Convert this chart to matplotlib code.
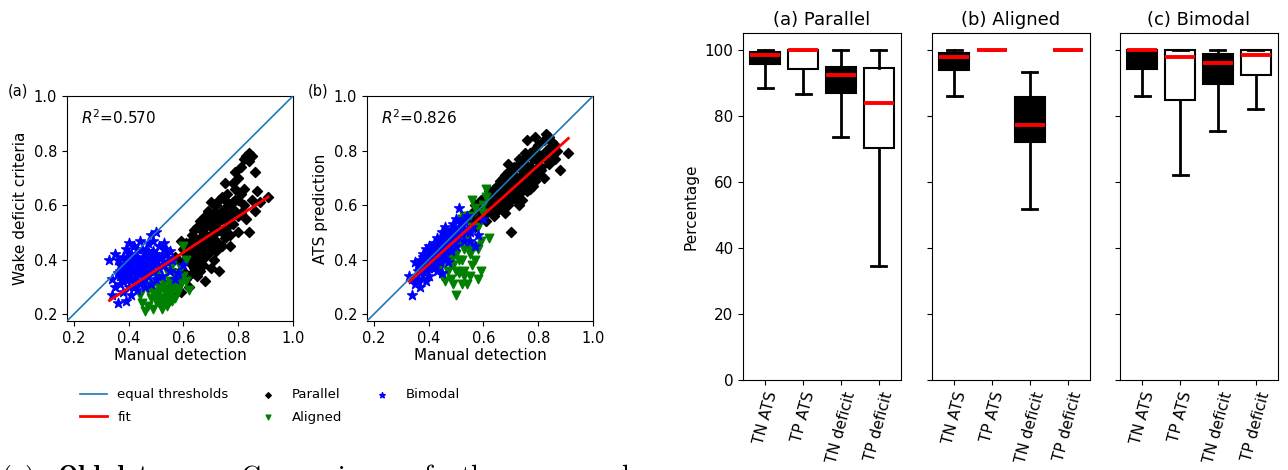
import numpy as np
import matplotlib.pyplot as plt

# manual detection (x) vs wake deficit criteria / ATS prediction, per wake type
par_x = [0.55, 0.56, 0.57, 0.58, 0.58, 0.59, 0.60, 0.60, 0.61, 0.61, 0.62, 0.62, 0.63, 0.63, 0.64,
         0.64, 0.65, 0.65, 0.66, 0.66, 0.67, 0.67, 0.67, 0.68, 0.68, 0.68, 0.69, 0.69, 0.70, 0.70,
         0.70, 0.71, 0.71, 0.72, 0.72, 0.73, 0.73, 0.73, 0.74, 0.74, 0.75, 0.75, 0.76, 0.76, 0.77,
         0.77, 0.78, 0.78, 0.79, 0.79, 0.80, 0.80, 0.80, 0.81, 0.81, 0.82, 0.82, 0.83, 0.83, 0.84,
         0.84, 0.84, 0.85, 0.85, 0.86, 0.86, 0.87, 0.88, 0.91, 0.79, 0.75, 0.71, 0.66, 0.62, 0.57,
         0.59, 0.64, 0.69, 0.72, 0.77, 0.82, 0.76, 0.70, 0.65, 0.63, 0.74, 0.78, 0.81, 0.68, 0.73,
         0.62, 0.63, 0.64, 0.65, 0.65, 0.66, 0.66, 0.67, 0.67, 0.68, 0.69, 0.69, 0.70, 0.70, 0.71,
         0.71, 0.72, 0.72, 0.73, 0.74, 0.74, 0.75, 0.75, 0.76, 0.77, 0.78, 0.79, 0.80, 0.60, 0.61]
par_wdc = [0.30, 0.27, 0.35, 0.31, 0.40, 0.28, 0.36, 0.44, 0.33, 0.46, 0.39, 0.30, 0.42, 0.49, 0.37,
           0.45, 0.34, 0.52, 0.41, 0.48, 0.44, 0.55, 0.38, 0.47, 0.52, 0.32, 0.42, 0.58, 0.49, 0.61,
           0.45, 0.53, 0.40, 0.57, 0.47, 0.62, 0.51, 0.36, 0.55, 0.63, 0.48, 0.59, 0.52, 0.64, 0.56,
           0.45, 0.61, 0.53, 0.58, 0.66, 0.50, 0.62, 0.70, 0.57, 0.74, 0.60, 0.77, 0.55, 0.78, 0.79,
           0.76, 0.50, 0.78, 0.62, 0.72, 0.58, 0.65, 0.61, 0.63, 0.72, 0.68, 0.60, 0.54, 0.46, 0.41,
           0.47, 0.51, 0.54, 0.43, 0.49, 0.66, 0.58, 0.37, 0.43, 0.35, 0.45, 0.68, 0.64, 0.41, 0.56,
           0.42, 0.45, 0.40, 0.47, 0.39, 0.45, 0.36, 0.50, 0.47, 0.56, 0.48, 0.45, 0.55, 0.52, 0.47,
           0.57, 0.50, 0.60, 0.54, 0.50, 0.58, 0.55, 0.62, 0.49, 0.60, 0.57, 0.62, 0.56, 0.39, 0.42]
par_ats = [0.55, 0.57, 0.52, 0.59, 0.55, 0.62, 0.56, 0.60, 0.54, 0.63, 0.58, 0.61, 0.57, 0.64, 0.60,
           0.66, 0.62, 0.58, 0.64, 0.69, 0.61, 0.67, 0.59, 0.65, 0.71, 0.63, 0.60, 0.68, 0.66, 0.73,
           0.50, 0.63, 0.69, 0.67, 0.74, 0.64, 0.70, 0.66, 0.76, 0.62, 0.68, 0.72, 0.65, 0.78, 0.70,
           0.74, 0.67, 0.80, 0.73, 0.69, 0.76, 0.82, 0.71, 0.78, 0.74, 0.84, 0.70, 0.77, 0.86, 0.81,
           0.85, 0.75, 0.83, 0.79, 0.77, 0.82, 0.80, 0.73, 0.79, 0.85, 0.79, 0.71, 0.62, 0.65, 0.60,
           0.58, 0.56, 0.75, 0.62, 0.66, 0.79, 0.84, 0.64, 0.67, 0.62, 0.71, 0.77, 0.73, 0.57, 0.60,
           0.60, 0.59, 0.63, 0.64, 0.60, 0.66, 0.61, 0.64, 0.70, 0.62, 0.67, 0.72, 0.62, 0.69, 0.66,
           0.74, 0.70, 0.65, 0.77, 0.67, 0.73, 0.70, 0.75, 0.72, 0.79, 0.71, 0.80, 0.74, 0.58, 0.61]

ali_x = [0.44, 0.45, 0.46, 0.47, 0.47, 0.48, 0.49, 0.49, 0.50, 0.50, 0.51, 0.51, 0.52, 0.52, 0.53,
         0.53, 0.54, 0.54, 0.55, 0.55, 0.56, 0.56, 0.57, 0.57, 0.58, 0.58, 0.59, 0.59, 0.60, 0.61,
         0.62, 0.53, 0.55, 0.52, 0.56, 0.60, 0.48, 0.57, 0.54, 0.61, 0.50, 0.51, 0.53, 0.55, 0.58,
         0.49]
ali_wdc = [0.27, 0.24, 0.21, 0.29, 0.23, 0.26, 0.31, 0.22, 0.27, 0.34, 0.24, 0.30, 0.22, 0.33, 0.26,
           0.29, 0.23, 0.36, 0.27, 0.32, 0.25, 0.38, 0.30, 0.35, 0.28, 0.33, 0.37, 0.31, 0.45, 0.32,
           0.29, 0.31, 0.29, 0.26, 0.30, 0.34, 0.30, 0.26, 0.28, 0.40, 0.25, 0.28, 0.24, 0.25, 0.30,
           0.28]
ali_ats = [0.37, 0.34, 0.32, 0.36, 0.40, 0.33, 0.31, 0.38, 0.27, 0.42, 0.35, 0.46, 0.31, 0.40, 0.44,
           0.36, 0.31, 0.48, 0.34, 0.56, 0.38, 0.52, 0.40, 0.59, 0.33, 0.44, 0.47, 0.36, 0.60, 0.66,
           0.48, 0.56, 0.42, 0.55, 0.62, 0.57, 0.38, 0.45, 0.50, 0.63, 0.36, 0.40, 0.34, 0.44, 0.52,
           0.41]

bim_x = [0.33, 0.34, 0.35, 0.35, 0.36, 0.36, 0.37, 0.37, 0.38, 0.38, 0.38, 0.39, 0.39, 0.39, 0.40,
         0.40, 0.40, 0.41, 0.41, 0.41, 0.42, 0.42, 0.42, 0.43, 0.43, 0.43, 0.44, 0.44, 0.44, 0.45,
         0.45, 0.45, 0.46, 0.46, 0.46, 0.47, 0.47, 0.47, 0.48, 0.48, 0.48, 0.49, 0.49, 0.50, 0.50,
         0.50, 0.51, 0.51, 0.52, 0.52, 0.53, 0.53, 0.54, 0.55, 0.56, 0.57, 0.58, 0.60, 0.36, 0.37,
         0.40, 0.43, 0.44, 0.41, 0.46, 0.39, 0.42, 0.45, 0.48, 0.53, 0.34, 0.38, 0.47, 0.50, 0.55,
         0.49, 0.37, 0.38, 0.39, 0.40, 0.40, 0.41, 0.42, 0.43, 0.43, 0.44, 0.45, 0.46, 0.46, 0.47,
         0.48, 0.49, 0.51, 0.52, 0.54, 0.42]
bim_wdc = [0.40, 0.27, 0.42, 0.30, 0.35, 0.24, 0.38, 0.31, 0.41, 0.28, 0.35, 0.44, 0.33, 0.25, 0.38,
           0.30, 0.46, 0.36, 0.42, 0.27, 0.39, 0.33, 0.45, 0.37, 0.29, 0.41, 0.35, 0.47, 0.31, 0.40,
           0.36, 0.44, 0.33, 0.42, 0.38, 0.46, 0.34, 0.40, 0.37, 0.49, 0.31, 0.43, 0.36, 0.50, 0.39,
           0.33, 0.45, 0.37, 0.41, 0.34, 0.44, 0.38, 0.42, 0.36, 0.40, 0.33, 0.35, 0.38, 0.40, 0.34,
           0.33, 0.32, 0.39, 0.39, 0.30, 0.36, 0.36, 0.32, 0.40, 0.46, 0.33, 0.38, 0.43, 0.42, 0.43,
           0.47, 0.36, 0.32, 0.40, 0.35, 0.42, 0.33, 0.41, 0.35, 0.44, 0.37, 0.38, 0.40, 0.35, 0.37,
           0.42, 0.39, 0.41, 0.38, 0.39, 0.30]
bim_ats = [0.34, 0.27, 0.39, 0.31, 0.36, 0.33, 0.40, 0.35, 0.42, 0.37, 0.33, 0.44, 0.39, 0.36, 0.41,
           0.34, 0.45, 0.43, 0.38, 0.40, 0.46, 0.42, 0.37, 0.44, 0.41, 0.48, 0.39, 0.45, 0.43, 0.47,
           0.35, 0.50, 0.44, 0.42, 0.52, 0.46, 0.49, 0.39, 0.51, 0.47, 0.44, 0.53, 0.48, 0.55, 0.50,
           0.45, 0.59, 0.52, 0.49, 0.54, 0.51, 0.47, 0.56, 0.47, 0.52, 0.45, 0.49, 0.55, 0.38, 0.30,
           0.37, 0.36, 0.41, 0.44, 0.40, 0.32, 0.40, 0.46, 0.43, 0.54, 0.33, 0.39, 0.50, 0.48, 0.50,
           0.46, 0.37, 0.41, 0.37, 0.43, 0.39, 0.41, 0.43, 0.46, 0.42, 0.44, 0.48, 0.45, 0.50, 0.47,
           0.49, 0.51, 0.50, 0.53, 0.51, 0.38]

# linear fits (slope, intercept) and R^2
fit_wdc = (0.655, 0.034)
fit_ats = (0.905, 0.021)
r2_wdc = 0.570
r2_ats = 0.826

# box plot statistics: (whislo, q1, med, q3, whishi)
box_labels = ['TN ATS', 'TP ATS', 'TN deficit', 'TP deficit']
box_titles = ['(a) Parallel', '(b) Aligned', '(c) Bimodal']
box_stats = [
    [(88.4, 95.7, 98.5, 99.5, 100), (86.6, 94.4, 100, 100, 100),
     (73.7, 87.0, 92.4, 95.0, 100), (34.7, 70.4, 83.9, 94.6, 100)],
    [(86.1, 94.0, 97.9, 99.0, 100), (100, 100, 100, 100, 100),
     (51.7, 72.3, 77.3, 85.8, 93.5), (100, 100, 100, 100, 100)],
    [(86.2, 94.4, 100, 100, 100), (62.3, 84.8, 97.8, 100, 100),
     (75.5, 89.6, 96.0, 98.7, 100), (82.1, 92.5, 98.4, 100, 100)],
]

W, H = 1288, 470
fig = plt.figure(figsize=(W / 100, H / 100), dpi=100)

def px(l, t, r, b):
    return [l / W, (H - b) / H, (r - l) / W, (b - t) / H]

lim = (0.175, 1.0)
xall = par_x + ali_x + bim_x
xf = np.array([min(xall), max(xall)])

handles = None
for i, (ys, fit, r2, ylab, tag) in enumerate([
        ((par_wdc, ali_wdc, bim_wdc), fit_wdc, r2_wdc, 'Wake deficit criteria', '(a)'),
        ((par_ats, ali_ats, bim_ats), fit_ats, r2_ats, 'ATS prediction', '(b)')]):
    left = 67 + 300 * i
    ax = fig.add_axes(px(left, 96, left + 226, 321))
    l1, = ax.plot(lim, lim, color='tab:blue', lw=1.2, zorder=3, label='equal thresholds')
    l2, = ax.plot(xf, fit[0] * xf + fit[1], color='red', lw=2, zorder=4, label='fit')
    s1 = ax.scatter(par_x, ys[0], marker='D', c='black', s=26, label='Parallel')
    s2 = ax.scatter(ali_x, ys[1], marker='v', c='green', s=38, label='Aligned')
    s3 = ax.scatter(bim_x, ys[2], marker='*', c='blue', s=55, label='Bimodal')
    handles = [l1, l2, s1, s2, s3]
    ax.set_xlim(lim)
    ax.set_ylim(lim)
    ax.set_xticks([0.2, 0.4, 0.6, 0.8, 1.0])
    ax.set_yticks([0.2, 0.4, 0.6, 0.8, 1.0])
    ax.tick_params(labelsize=10.5)
    ax.set_xlabel('Manual detection', fontsize=11, labelpad=2)
    ax.set_ylabel(ylab, fontsize=11)
    ax.text(0.06, 0.905, '$R^2$=%.3f' % r2, transform=ax.transAxes, fontsize=11, va='center')
    fig.text((left - 59) / W, (H - 91) / H, tag, fontsize=10.5, va='center')

fig.legend(handles, [h.get_label() for h in handles], ncol=3, frameon=False, fontsize=9.5,
           markerscale=0.55, labelspacing=0.7, loc='center',
           bbox_to_anchor=(270 / W, (H - 406) / H))

# caption of the left figure, cut off at the bottom edge
for x0, word in [(0, r'$\mathrm{(a)}$'), (57, r'$\mathbf{Old\ data:}$'), (240, r'$\mathrm{Comparison}$'),
                 (410, r'$\mathrm{of}$'), (460, r'$\mathrm{the}$'), (540, r'$\mathrm{manual}$')]:
    fig.text(x0 / W, (H - 463) / H, word, fontsize=20, va='top', math_fontfamily='cm')

# box plots
lefts = [743, 932, 1120]
for k in range(3):
    ax = fig.add_axes(px(lefts[k], 33, lefts[k] + 158, 380))
    stats = [dict(whislo=s[0], q1=s[1], med=s[2], q3=s[3], whishi=s[4], fliers=[])
             for s in box_stats[k]]
    bp = ax.bxp(stats, widths=0.8, patch_artist=True, showfliers=False,
                boxprops=dict(linewidth=1.5, edgecolor='black'),
                whiskerprops=dict(linewidth=2, color='black'),
                capprops=dict(linewidth=2, color='black'),
                medianprops=dict(linewidth=2.8, color='red'))
    for j, patch in enumerate(bp['boxes']):
        patch.set_facecolor('black' if j % 2 == 0 else 'white')
    ax.set_xlim(0.41, 4.59)
    ax.set_ylim(0, 105.2)
    ax.set_yticks([0, 20, 40, 60, 80, 100])
    ax.set_xticks([1, 2, 3, 4])
    ax.set_xticklabels(box_labels, rotation=75, fontsize=11)
    ax.tick_params(axis='y', labelsize=11)
    ax.set_title(box_titles[k], fontsize=13)
    if k == 0:
        ax.set_ylabel('Percentage', fontsize=11)
    else:
        ax.set_yticklabels([])

fig.savefig('out.png', dpi=100)
